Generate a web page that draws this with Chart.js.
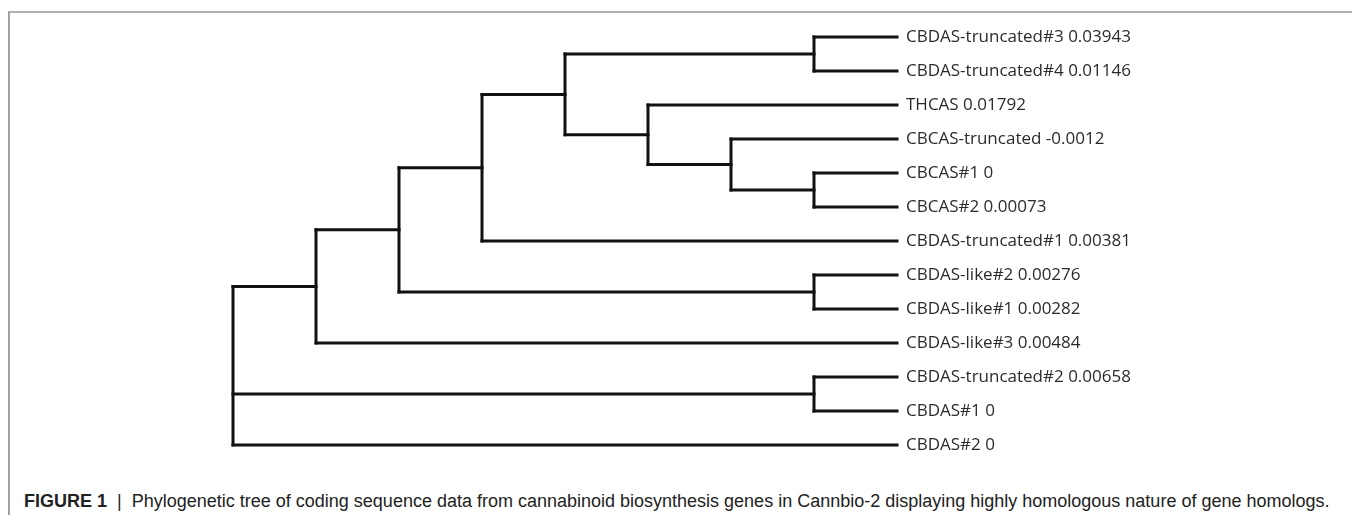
<!DOCTYPE html>
<html>
<head>
<meta charset="utf-8">
<script src="https://cdn.jsdelivr.net/npm/chart.js@4"></script>
<style>
  html, body { margin: 0; padding: 0; background: #fff; }
  #wrap { position: relative; width: 1352px; height: 515px; overflow: hidden; }
  #frame {
    position: absolute; left: 8px; top: 11px; right: 0; bottom: 0;
    border-top: 2px solid #b0b0b0; border-left: 2px solid #a0a0a0;
  }
  #tree { position: absolute; left: 0; top: 0; }
  #caption {
    position: absolute; left: 24px; top: 490px; white-space: nowrap;
    font-family: "Liberation Sans", Arial, sans-serif; font-size: 18px; line-height: 22px; color: #222;
  }
  #caption b { font-weight: bold; }
  #caption .bar { margin: 0 10px; }
</style>
</head>
<body>
<div id="wrap">
  <div id="frame"></div>
  <canvas id="tree" width="1352" height="470"></canvas>
  <div id="caption"><b>FIGURE 1</b><span class="bar">|</span>Phylogenetic tree of coding sequence data from cannabinoid biosynthesis genes in Cannbio-2 displaying highly homologous nature of gene homologs.</div>
</div>
<script>
// leaves, top to bottom
const leafNames = ['CBDAS-truncated#3', 'CBDAS-truncated#4', 'THCAS', 'CBCAS-truncated', 'CBCAS#1', 'CBCAS#2',
  'CBDAS-truncated#1', 'CBDAS-like#2', 'CBDAS-like#1', 'CBDAS-like#3', 'CBDAS-truncated#2', 'CBDAS#1', 'CBDAS#2'];
const leafValues = [0.03943, 0.01146, 0.01792, -0.0012, 0, 0.00073, 0.00381, 0.00276, 0.00282, 0.00484, 0.00658, 0, 0];
const leafParents = ['A', 'A', 'D', 'C', 'B', 'B', 'F', 'G', 'G', 'I', 'J', 'J', 'R'];
const leafLevel = 8;

// internal nodes (cladogram depth)
const nodeNames = ['R', 'I', 'H', 'F', 'E', 'D', 'C', 'A', 'B', 'G', 'J'];
const nodeLevels = [0, 1, 2, 3, 4, 5, 6, 7, 7, 7, 7];
const nodeParents = [null, 'R', 'I', 'H', 'F', 'E', 'D', 'E', 'C', 'H', 'R'];

const leafLabels = leafNames.map((n, i) => `${n} ${leafValues[i]}`);

// children y positions per node; node y = middle of outermost children
const kids = {};
leafParents.forEach((p, i) => { (kids[p] = kids[p] || []).push(i); });
const nodeY = {};
function yOf(name) {
  if (nodeY[name] != null) return nodeY[name];
  const ys = (kids[name] || []).slice();
  nodeNames.forEach((n, i) => { if (nodeParents[i] === name) ys.push(yOf(n)); });
  kids[name] = ys;
  nodeY[name] = (Math.min(...ys) + Math.max(...ys)) / 2;
  return nodeY[name];
}
nodeNames.forEach(yOf);
const levelOf = name => nodeLevels[nodeNames.indexOf(name)];

const lineStyle = {
  showLine: true, borderColor: '#111', borderWidth: 3, pointRadius: 0,
  borderCapStyle: 'square', clip: false,
};
const seg = (x1, y1, x2, y2) => ({ ...lineStyle, data: [{ x: x1, y: y1 }, { x: x2, y: y2 }] });

const datasets = [];
// vertical bar of every internal node
nodeNames.forEach((n, i) => {
  datasets.push(seg(nodeLevels[i], Math.min(...kids[n]), nodeLevels[i], Math.max(...kids[n])));
});
// horizontal branch of every node and leaf
nodeNames.forEach((n, i) => {
  if (nodeParents[i]) datasets.push(seg(levelOf(nodeParents[i]), nodeY[n], nodeLevels[i], nodeY[n]));
});
leafParents.forEach((p, i) => datasets.push(seg(levelOf(p), i, leafLevel, i)));

new Chart(document.getElementById('tree'), {
  type: 'scatter',
  data: { datasets },
  options: {
    responsive: false,
    animation: false,
    layout: { padding: { left: 233, top: 37, bottom: 25, right: 0 } },
    plugins: { legend: { display: false }, tooltip: { enabled: false } },
    scales: {
      x: { type: 'linear', display: false, min: 0, max: leafLevel },
      y: {
        type: 'linear', position: 'right', reverse: true, min: 0, max: leafNames.length - 1,
        grid: { display: false, drawTicks: false }, border: { display: false },
        afterFit: s => { s.width = 455; },
        ticks: {
          stepSize: 1, autoSkip: false, maxTicksLimit: 50, padding: 9,
          color: '#2b2b2b', font: { family: '"Open Sans", sans-serif', size: 17 },
          callback: v => leafLabels[v],
        },
      },
    },
  },
});
</script>
</body>
</html>
